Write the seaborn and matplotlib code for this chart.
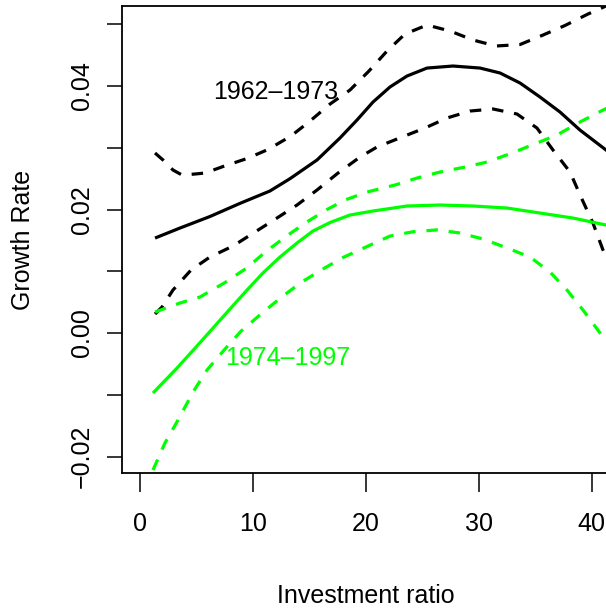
import numpy as np
import pandas as pd
import matplotlib
matplotlib.use("Agg")
import matplotlib.pyplot as plt
import seaborn as sns

# Smoothed growth-rate fits (with confidence bands) against investment ratio
x_62_fit = [1.33, 3.54, 6.20, 8.86, 11.51, 13.29, 15.68, 17.71, 19.22, 20.64, 22.14,
            23.65, 25.42, 27.72, 30.12, 31.89, 33.66, 35.43, 37.20, 38.97, 41.28, 41.7]
y_62_fit = [0.01538, 0.01700, 0.01887, 0.02100, 0.02300, 0.02500, 0.02802, 0.03158,
            0.03449, 0.03741, 0.03984, 0.04162, 0.04291, 0.04324, 0.04291, 0.04211,
            0.04049, 0.03822, 0.03579, 0.03287, 0.02964, 0.02900]

x_62_hi = [1.33, 2.04, 2.92, 3.72, 4.87, 5.76, 7.35, 9.48, 11.34, 13.37, 15.06, 16.83,
           18.60, 20.28, 21.88, 23.47, 25.42, 27.46, 29.50, 31.53, 33.66, 35.70, 37.64,
           39.68, 41.28, 41.7]
y_62_hi = [0.02915, 0.02802, 0.02640, 0.02559, 0.02575, 0.02591, 0.02696, 0.02826,
           0.02972, 0.03190, 0.03433, 0.03708, 0.03935, 0.04243, 0.04567, 0.04842,
           0.04988, 0.04891, 0.04745, 0.04648, 0.04672, 0.04826, 0.04980, 0.05166,
           0.05296, 0.05330]

x_62_lo = [1.33, 1.95, 2.92, 4.52, 6.20, 8.24, 10.19, 12.13, 13.91, 15.68, 17.54, 19.49,
           20.99, 23.21, 25.24, 27.19, 29.23, 31.27, 33.39, 35.16, 36.58, 38.09, 39.06,
           40.12, 41.01, 41.7]
y_62_lo = [0.00308, 0.00421, 0.00696, 0.01020, 0.01231, 0.01409, 0.01636, 0.01862,
           0.02073, 0.02316, 0.02591, 0.02850, 0.03012, 0.03174, 0.03320, 0.03482,
           0.03595, 0.03628, 0.03547, 0.03320, 0.02964, 0.02607, 0.02202, 0.01781,
           0.01344, 0.01050]

x_74_fit = [1.15, 3.28, 5.05, 6.47, 7.97, 9.48, 10.89, 12.40, 13.91, 15.32, 16.83, 18.60,
            20.64, 23.65, 26.57, 29.50, 32.51, 35.43, 38.35, 41.28, 41.7]
y_74_fit = [-0.00972, -0.00567, -0.00210, 0.00081, 0.00389, 0.00696, 0.00972, 0.01231,
            0.01458, 0.01652, 0.01789, 0.01911, 0.01976, 0.02057, 0.02073, 0.02057,
            0.02024, 0.01943, 0.01862, 0.01749, 0.01730]

x_74_hi = [1.33, 3.54, 5.31, 7.53, 9.39, 11.16, 12.93, 14.70, 16.56, 18.16, 20.10, 22.59,
           24.54, 26.57, 28.79, 30.74, 32.95, 35.16, 36.93, 38.97, 41.01, 41.7]
y_74_hi = [0.00340, 0.00486, 0.00583, 0.00818, 0.01045, 0.01320, 0.01563, 0.01789,
           0.02000, 0.02154, 0.02283, 0.02397, 0.02510, 0.02607, 0.02688, 0.02769,
           0.02915, 0.03077, 0.03206, 0.03417, 0.03611, 0.03670]

x_74_lo = [1.15, 2.21, 3.37, 4.70, 5.94, 7.53, 8.95, 10.72, 12.49, 14.26, 16.12, 17.98,
           20.11, 22.14, 24.18, 26.30, 28.34, 30.38, 32.51, 34.54, 36.32, 37.82, 39.24,
           40.75, 41.28, 41.7]
y_74_lo = [-0.02219, -0.01781, -0.01409, -0.00955, -0.00599, -0.00259, 0.00030, 0.00308,
           0.00575, 0.00818, 0.01028, 0.01223, 0.01401, 0.01570, 0.01640, 0.01670,
           0.01620, 0.01522, 0.01377, 0.01231, 0.00988, 0.00696, 0.00372, 0.00000,
           -0.00113, -0.00200]

period_labels = ["1962\u20131973", "1974\u20131997"]
period_label_x = [12.05, 13.06]
period_label_y = [0.0390, -0.00405]

x_ticks = [0, 10, 20, 30, 40]
y_ticks = [-0.02, -0.01, 0.00, 0.01, 0.02, 0.03, 0.04, 0.05]
y_tick_labels = ["\u22120.02", "", "0.00", "", "0.02", "", "0.04", ""]

sns.set_theme(style="white")
plt.rcParams["font.family"] = ["Liberation Sans", "DejaVu Sans"]
plt.rcParams["axes.unicode_minus"] = True

W, H = 606, 608
fig = plt.figure(figsize=(W / 100, H / 100), dpi=100)
fig.patch.set_facecolor("white")
# plot box spans x 122..610 px and y 6..473 px (right side runs past the canvas)
ax = fig.add_axes([122 / W, 1 - 473 / H, (610 - 122) / W, (473 - 6) / H])
ax.set_facecolor("white")

GREEN = "#00FF00"
LW = 2.3
DASH = (3.6, 3.4)

curves = [
    (x_62_fit, y_62_fit, "black", False),
    (x_62_hi, y_62_hi, "black", True),
    (x_62_lo, y_62_lo, "black", True),
    (x_74_fit, y_74_fit, GREEN, False),
    (x_74_hi, y_74_hi, GREEN, True),
    (x_74_lo, y_74_lo, GREEN, True),
]
for xs, ys, col, dashed in curves:
    df = pd.DataFrame({"x": xs, "y": ys})
    sns.lineplot(data=df, x="x", y="y", sort=False, estimator=None, color=col,
                 linewidth=LW, ax=ax)
    line = ax.lines[-1]
    line.set_solid_capstyle("butt")
    line.set_solid_joinstyle("round")
    if dashed:
        line.set_dashes(DASH)
        line.set_dash_capstyle("butt")

for txt, tx, ty, col in zip(period_labels, period_label_x, period_label_y, ["black", GREEN]):
    ax.text(tx, ty, txt, color=col, fontsize=18, ha="center", va="center")

ax.set_xlim(-1.594, 41.63)
ax.set_ylim(-0.02267, 0.05296)
ax.set_xticks(x_ticks)
ax.set_xticklabels([str(v) for v in x_ticks])
ax.set_yticks(y_ticks)
ax.set_yticklabels(y_tick_labels, rotation=90, va="center")
ax.tick_params(axis="x", direction="out", length=13.7, width=1.1, pad=14.5,
               labelsize=18, colors="black", bottom=True)
ax.tick_params(axis="y", direction="out", length=10.8, width=1.1, pad=9.5,
               labelsize=18, colors="black", left=True)
for sp in ax.spines.values():
    sp.set_visible(True)
    sp.set_color("black")
    sp.set_linewidth(1.3)
ax.set_xlabel("")
ax.set_ylabel("")

fig.text(366 / W, 1 - 603 / H, "Investment ratio", fontsize=18, ha="center",
         va="baseline", color="black")
fig.text(23 / W, 1 - 240 / H, "Growth Rate", fontsize=18, rotation=90,
         ha="center", va="center", color="black")

fig.savefig("out.png", dpi=100, facecolor="white")
